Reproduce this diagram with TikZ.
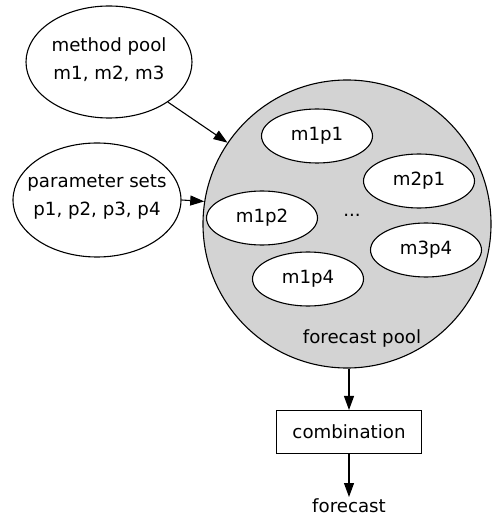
\documentclass[tikz,border=0pt]{standalone}
\usepackage{fontspec}
\setmainfont{DejaVu Sans}
\usetikzlibrary{shapes.geometric,arrows.meta}
\definecolor{poolgray}{RGB}{211,211,211}
\begin{document}
\begin{tikzpicture}[x=1pt,y=-1pt,
  every node/.style={font=\fontsize{18.2}{28}\selectfont},
  bigell/.style={draw,ellipse,line width=1.1pt,inner sep=0pt,minimum width=166pt,minimum height=112pt,fill=white},
  smallell/.style={draw,ellipse,line width=1.1pt,inner sep=0pt,minimum width=111pt,minimum height=54pt,fill=white},
  conn/.style={line width=1.1pt,-{Triangle[length=14pt,width=10pt]}}]
\useasboundingbox (0,0) rectangle (493,518);
\node[bigell] (mp) at (109,62) {};
\node[align=center] (mpt) at (109,60) {method pool\\m1, m2, m3};
\node[bigell,minimum width=168pt,minimum height=114pt] (ps) at (97,200) {};
\node[align=center] (pst) at (97,197) {parameter sets\\p1, p2, p3, p4};
\node[draw,circle,line width=1.1pt,fill=poolgray,minimum size=288pt,inner sep=0pt] (fp) at (347,224) {};
\node[smallell] (a) at (317,136) {m1p1};
\node[smallell] (b) at (419,181) {m2p1};
\node[smallell] (c) at (262,218) {m1p2};
\node[smallell] (d) at (426,250) {m3p4};
\node[smallell] (e) at (308,279) {m1p4};
\node (dots) at (352,215) {...};
\node (fpl) at (362,338) {forecast pool};
\node[draw,line width=1.1pt,minimum width=145pt,minimum height=43pt,inner sep=0pt] (comb) at (349,432) {combination};
\node[inner sep=1pt,anchor=north] (out) at (349,497) {forecast};
\draw[conn] (mp) -- (fp);
\draw[conn] (ps.east) -- (fp.171);
\draw[conn] (fp.south -| comb.north) -- (comb.north);
\draw[conn] (comb.south) -- (out.north);
\end{tikzpicture}
\end{document}
